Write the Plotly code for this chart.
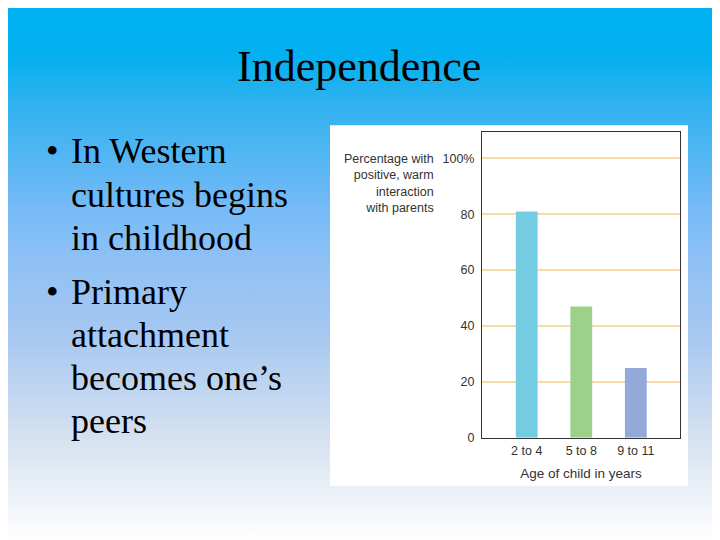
import base64
import plotly.graph_objects as go

# data
ages = ["2 to 4", "5 to 8", "9 to 11"]
pct_warm = [81, 47, 25]
bar_colors = ["#74CCE2", "#9DD089", "#93A9D8"]
y_ticks = [0, 20, 40, 60, 80, 100]
y_ticktext = ["0", "20", "40", "60", "80", "100%"]

title = "Independence"
bullet_lines = [
    ["In Western", "cultures begins", "in childhood"],
    ["Primary", "attachment", "becomes one\u2019s", "peers"],
]

# the page keeps an 8px margin and the shot is squeezed a little in height,
# so slide pixels are mapped onto the figure with that in mind
OFF = 8
SQ = 548 / 540
W, H = 720 - OFF, 540


def xp(x):
    # slide pixel column -> paper fraction
    return (x - OFF) / W


def px(y):
    # slide pixel row -> paper fraction
    return 1 - (y * SQ - OFF) / H


# slide background: blue to white gradient as an inline svg
stops = [(0.0, "#00B0F0"), (0.09, "#04B0F0"), (0.18, "#30B2EF"), (0.36, "#70B9F6"),
         (0.46, "#8CC0F6"), (0.61, "#A6C7F0"), (0.81, "#D6E2F0"), (1.0, "#FFFFFF")]
svg = ('<svg xmlns="http://www.w3.org/2000/svg" width="712" height="540" preserveAspectRatio="none">'
       '<defs><linearGradient id="g" x1="0" y1="0" x2="0" y2="1">'
       + "".join('<stop offset="%s" stop-color="%s"/>' % s for s in stops)
       + '</linearGradient></defs><rect width="712" height="540" fill="url(#g)"/></svg>')
bg_src = "data:image/svg+xml;base64," + base64.b64encode(svg.encode()).decode()

fig = go.Figure()
fig.add_trace(go.Bar(x=ages, y=pct_warm, marker_color=bar_colors,
                     marker_line_width=0, width=0.4, hoverinfo="x+y"))

serif = "Liberation Serif, Times New Roman, serif"
sans = "Liberation Sans, Arial, sans-serif"

ann = []
ann.append(dict(text=title, x=xp(359), y=px(66), xref="paper", yref="paper",
                showarrow=False, xanchor="center", yanchor="middle",
                font=dict(family=serif, size=44, color="#000000")))

baselines = [162, 206, 249, 302, 345, 388, 431]
k = 0
for item in bullet_lines:
    for i, line in enumerate(item):
        yc = px(baselines[k] - 11)
        if i == 0:
            ann.append(dict(text="\u2022", x=xp(44), y=yc, xref="paper", yref="paper",
                            showarrow=False, xanchor="left", yanchor="middle",
                            font=dict(family=serif, size=36, color="#000000")))
        ann.append(dict(text=line, x=xp(69), y=yc, xref="paper", yref="paper",
                        showarrow=False, xanchor="left", yanchor="middle",
                        font=dict(family=serif, size=36, color="#000000")))
        k += 1

# y axis caption, right aligned beside the ticks
ann.append(dict(text="Percentage with<br>positive, warm<br>interaction<br>with parents",
                x=xp(436), y=px(150), xref="paper", yref="paper", showarrow=False,
                xanchor="right", yanchor="top", align="right",
                font=dict(family=sans, size=12.5, color="#333333")))

fig.update_layout(
    width=W, height=H,
    margin=dict(l=0, r=0, t=0, b=0),
    paper_bgcolor="#FFFFFF",
    plot_bgcolor="#FEF3E2",
    showlegend=False,
    annotations=ann,
    images=[dict(source=bg_src, xref="paper", yref="paper", x=0, y=1,
                 sizex=1, sizey=1, xanchor="left", yanchor="top",
                 sizing="stretch", layer="below")],
    shapes=[
        dict(type="rect", xref="paper", yref="paper", x0=xp(330), x1=xp(688),
             y0=px(485), y1=px(125), fillcolor="#FFFFFF", line_width=0, layer="below"),
    ],
)

fig.update_xaxes(
    domain=[xp(482), xp(680)], range=[-0.82, 2.81],
    showline=True, linecolor="#333333", linewidth=1, mirror=True,
    showgrid=False, ticks="", ticklabelstandoff=1,
    tickfont=dict(family=sans, size=12.5, color="#333333"),
    title=dict(text="Age of child in years", standoff=11,
               font=dict(family=sans, size=13.5, color="#333333")),
)
fig.update_yaxes(
    domain=[px(437), px(132)], range=[0, 109.3],
    tickvals=y_ticks, ticktext=y_ticktext,
    showline=True, linecolor="#333333", linewidth=1, mirror=True,
    showgrid=True, gridcolor="#F8D9A8", gridwidth=2, zeroline=False,
    ticks="", ticklabelstandoff=4,
    tickfont=dict(family=sans, size=12.5, color="#333333"),
)

fig.write_html("out.html")
